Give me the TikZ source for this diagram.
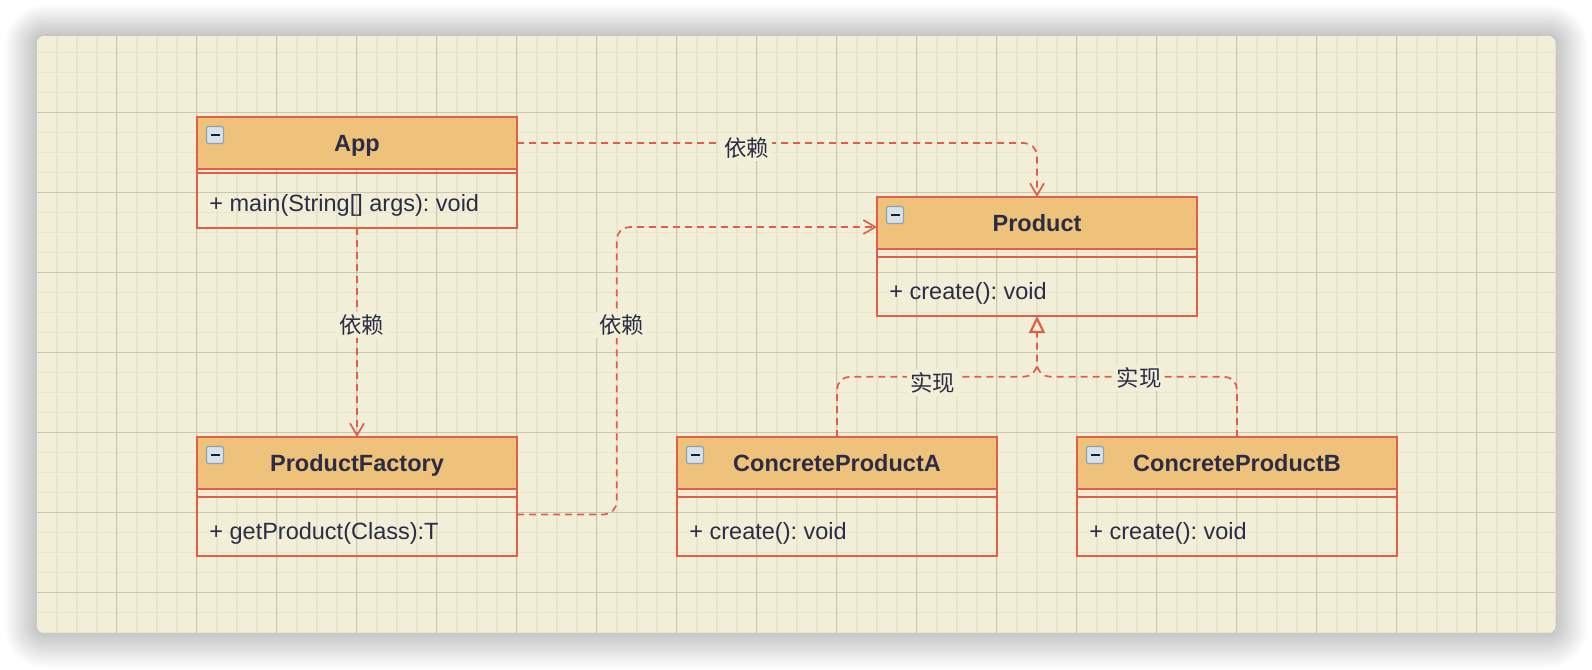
\documentclass[tikz,border=0pt]{standalone}
\usepackage{fontspec}
\setmainfont{Liberation Sans}
\newfontfamily\cjk{Noto Sans CJK SC}
\usetikzlibrary{arrows.meta}
\frenchspacing
\definecolor{bgc}{HTML}{F2EFD8}
\definecolor{minorc}{HTML}{E8E5CB}
\definecolor{majorc}{HTML}{CAC6B2}
\definecolor{boxred}{HTML}{DF5F48}
\definecolor{hdrc}{HTML}{EFC27B}
\definecolor{txtc}{HTML}{2B2C46}
\definecolor{iconb}{HTML}{8EA2B6}
\definecolor{iconf}{HTML}{D9E1E9}
\definecolor{icond}{HTML}{1E1E24}
\tikzset{
  classbox/.style={draw=boxred, line width=1pt, inner sep=0pt, outer sep=0pt, anchor=north west, minimum width=160pt},
  hdrbox/.style={inner sep=0pt, outer sep=0pt, anchor=north west, minimum width=160pt, minimum height=26pt},
  titletext/.style={font=\bfseries\fontsize{11.75}{14}\selectfont, text=txtc, inner sep=0pt, anchor=base},
  methtext/.style={font=\fontsize{11.75}{14}\selectfont, text=txtc, inner sep=0pt, anchor=base west},
  lbl/.style={font=\cjk\fontsize{11.2}{13}\selectfont, text=txtc, fill=bgc, inner sep=1.5pt},
  dep/.style={draw=boxred, line width=0.85pt, dash pattern=on 3.5pt off 2.5pt, rounded corners=6.5pt, -{Straight Barb[length=6pt,width=7pt,line width=0.85pt]}},
  realz/.style={draw=boxred, line width=0.85pt, dash pattern=on 3.5pt off 2.5pt, rounded corners=6.5pt},
}
\newcommand{\umlclass}[8]{%
  \begin{scope}[shift={(#2,#3)}]
    \fill[hdrc] (0,0) rectangle (320,52);
    \draw[boxred, line width=1pt] (0,52) -- (320,52) (0,#7) -- (320,#7);
    \node[classbox, minimum height={#6*0.5pt}] (#1) at (0,0) {};
    \node[hdrbox] (#1-h) at (0,0) {};
    \draw[iconb, fill=iconf, line width=0.6pt, rounded corners=1pt] (9.5,9.5) rectangle (26.5,26.5);
    \fill[icond] (13.5,16.8) rectangle (22.5,19.3);
    \node[titletext] (#1-t) at (160,34.5) {#4};
    \node[methtext] (#1-m) at (12,#8) {#5};
  \end{scope}}
\begin{document}
\begin{tikzpicture}[x=0.5pt,y=-0.5pt]
\useasboundingbox (0,0) rectangle (1592,670);
\fill[white] (0,0) rectangle (1592,670);
% shadow
\foreach \i in {1,...,28}{
  \pgfmathsetmacro\rr{4+\i*0.6}
  \fill[black, opacity=0.0065, rounded corners=\rr pt] ({36.7-\i*1.15},{35.7-\i*1.1}) rectangle ({1555.7+\i*1.15},{633.3+\i*1.25});
}
% panel with grid
\begin{scope}
\clip[rounded corners=4pt] (36.7,35.7) rectangle (1555.7,633.3);
\fill[bgc] (36.7,35.7) rectangle (1555.7,633.3);
\foreach \k in {1,...,75} \draw[minorc, line width=0.8pt] ({36.7+20*\k},35.7) -- ++(0,600);
\foreach \k in {1,...,30} \draw[minorc, line width=0.8pt] (36.7,{32.3+20*\k}) -- ++(1520,0);
\foreach \k in {1,...,18} \draw[majorc, line width=0.5pt] ({36.7+80*\k},35.7) -- ++(0,600);
\foreach \k in {1,...,7} \draw[majorc, line width=0.5pt] (36.7,{32.3+80*\k}) -- ++(1520,0);
\end{scope}
% classes
\umlclass{app}{197}{117}{App}{+ main(String[] args): void}{111}{55.5}{94.5}
\umlclass{product}{877}{197}{Product}{+ create(): void}{119}{60}{102}
\umlclass{pf}{197}{437}{ProductFactory}{+ getProduct(Class):T}{119}{60}{102}
\umlclass{ca}{677}{437}{ConcreteProductA}{+ create(): void}{119}{60}{102}
\umlclass{cb}{1077}{437}{ConcreteProductB}{+ create(): void}{119}{60}{102}
% connectors
\draw[dep] (app-h.east) -| (product.north);
\draw[dep] (app.south) -- (pf.north);
\coordinate (pfout) at ([yshift=-9pt]pf.east);
\coordinate (bend) at (616.7,227);
\draw[dep] (pfout) -| (bend) -- (bend -| product.west);
\coordinate (junc) at (1037,376.7);
\draw[realz, -{Triangle[length=8.5pt,width=8pt,line width=1.1pt,fill=bgc]}] (ca.north) |- (junc) -- (product.south);
\draw[realz] (cb.north) |- (junc) -- ++(0,-14);
% labels
\node[lbl] (l1) at (746.7,147.7) {依赖};
\node[lbl] (l2) at (361.7,325) {依赖};
\node[lbl] (l3) at (621.7,325) {依赖};
\node[lbl] (l4) at (932.5,382.7) {实现};
\node[lbl] (l5) at (1139,378) {实现};
\end{tikzpicture}
\end{document}
